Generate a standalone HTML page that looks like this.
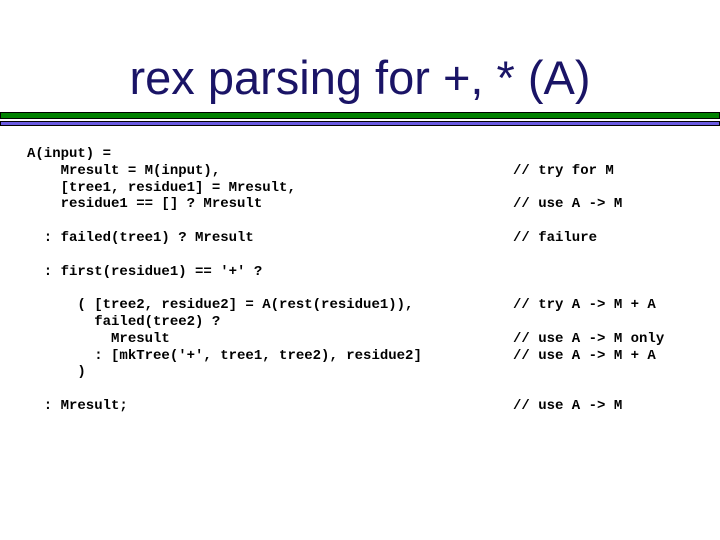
<!DOCTYPE html>
<html><head><style>
body{margin:0;width:720px;height:540px;background:#fff;position:relative;overflow:hidden}
.t{position:absolute;left:0;width:720px;top:50px;text-align:center;font-family:"Comic Sans MS","Liberation Sans",sans-serif;font-size:47px;color:#1a1466}
.g{position:absolute;left:0;top:112px;width:718px;height:5px;background:#008000;border:1px solid #000}
.b{position:absolute;left:0;top:121px;width:718px;height:3px;background:#6a5ae0;border:1px solid #000}
pre{position:absolute;margin:0;font-family:"Liberation Mono",monospace;font-weight:bold;font-size:14px;line-height:16.8px;color:#000}
</style></head><body>
<div class="t">rex parsing for +, * (A)</div>
<div class="g"></div><div class="b"></div>
<pre style="left:27px;top:146px">A(input) =
    Mresult = M(input),
    [tree1, residue1] = Mresult,
    residue1 == [] ? Mresult

  : failed(tree1) ? Mresult

  : first(residue1) == '+' ?

      ( [tree2, residue2] = A(rest(residue1)),
        failed(tree2) ?
          Mresult
        : [mkTree('+', tree1, tree2), residue2]
      )

  : Mresult;</pre>
<pre style="left:513px;top:162.8px">// try for M

// use A -&gt; M

// failure



// try A -&gt; M + A

// use A -&gt; M only
// use A -&gt; M + A


// use A -&gt; M</pre>
</body></html>
